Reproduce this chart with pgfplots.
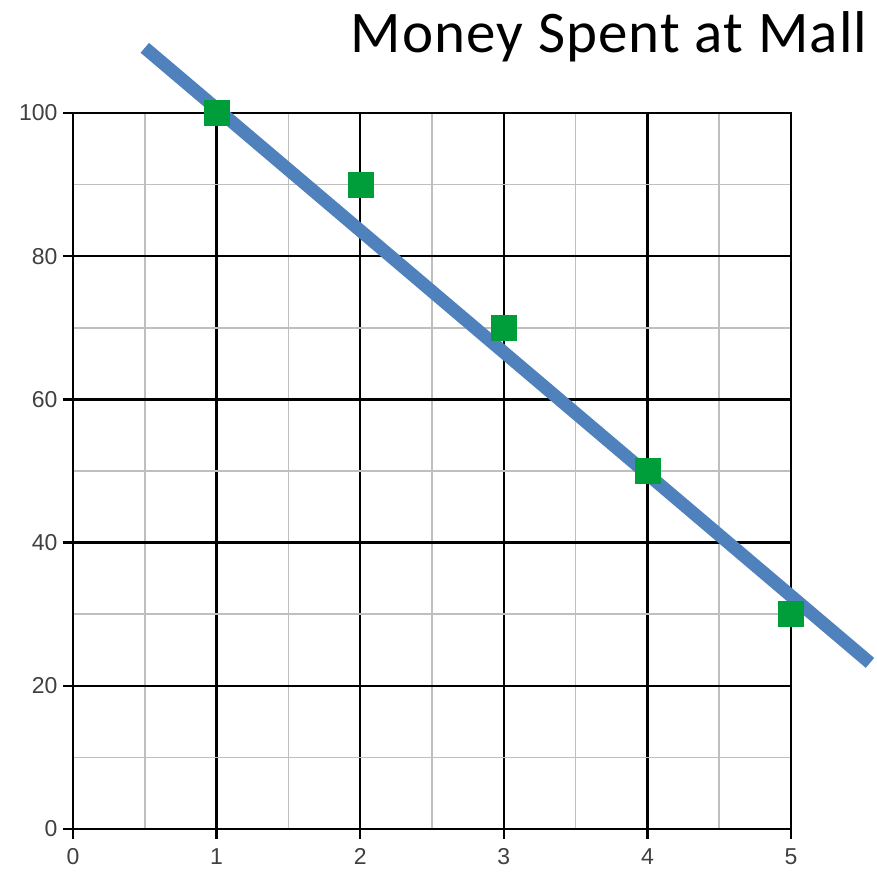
\documentclass[border=0pt]{standalone}
\usepackage{pgfplots}
\pgfplotsset{compat=1.18}
\usepackage{fontspec}
\setmainfont{Liberation Sans}
\newfontfamily\titlefont[LetterSpace=2]{Carlito}
\definecolor{mallgreen}{RGB}{0,158,58}
\definecolor{trendblue}{RGB}{79,129,189}
\begin{document}
\begin{tikzpicture}
\begin{axis}[
  at={(0pt,0pt)}, anchor=south west,
  scale only axis, width=718pt, height=716pt,
  xmin=0, xmax=5, ymin=0, ymax=100,
  xtick={0,1,2,3,4,5}, ytick={0,20,40,60,80,100},
  minor x tick num=1, minor y tick num=1,
  xtick pos=bottom, ytick pos=left,
  grid=both,
  major grid style={black, line width=2.4pt},
  minor grid style={black!25, line width=1.6pt},
  axis line style={black, line width=2.4pt},
  tick align=outside, major tick length=10pt, minor tick length=0pt,
  major tick style={black, line width=2.4pt},
  tick label style={font=\fontsize{23}{26}\selectfont, text=black!75},
  xticklabel style={yshift=-6pt},
  yticklabel style={xshift=-2pt},
  /pgf/number format/assume math mode=true,
  clip=false,
]
  % observed spending
  \addplot[only marks, mark=square*, mark size=12.5pt, mallgreen]
    coordinates {(1,100) (2,90) (3,70) (4,50) (5,30)};
  % fitted trend line
  \addplot[trendblue, line width=13pt, line cap=butt]
    coordinates {(0.50,109.1) (5.55,23.2)};
\end{axis}
\node[anchor=base, font=\titlefont\fontsize{59}{66}\selectfont] at (536pt,776pt) {Money Spent at Mall};
\pgfresetboundingbox
\path (-73pt,-45pt) rectangle (804pt,829pt);
\end{tikzpicture}
\end{document}
